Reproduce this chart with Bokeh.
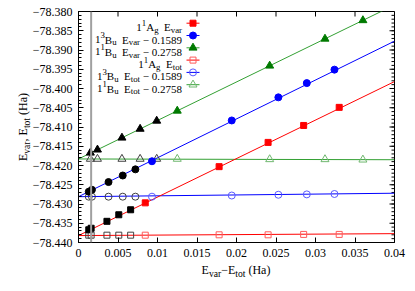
from bokeh.plotting import figure
from bokeh.models import FixedTicker, Span, Label, Range1d, Div
from bokeh.layouts import row, column
from bokeh.embed import file_html
from bokeh.resources import INLINE

# ---------------- data ----------------
x_1Ag = [0.0013, 0.0016, 0.0036, 0.0051, 0.0066, 0.00845, 0.0178, 0.0240, 0.0285, 0.0330]
evar_1Ag = [-78.4367, -78.4363, -78.4345, -78.4328, -78.4315, -78.4297, -78.4203, -78.4140, -78.4096, -78.4049]
etot_1Ag = [-78.4381, -78.4381, -78.4381, -78.4381, -78.4381, -78.4381, -78.4380, -78.4380, -78.4379, -78.4379]

x_3Bu = [0.0013, 0.0017, 0.0038, 0.0056, 0.0072, 0.0093, 0.0194, 0.0253, 0.0289, 0.0324]
evar_3Bu = [-78.4268, -78.4263, -78.4243, -78.4226, -78.4210, -78.4189, -78.4083, -78.4023, -78.3986, -78.3951]
etot_3Bu = [-78.4281, -78.4281, -78.4281, -78.4281, -78.4281, -78.4281, -78.4278, -78.4276, -78.4275, -78.4274]

x_1Bu = [0.0015, 0.0024, 0.0055, 0.0078, 0.0099, 0.0125, 0.0242, 0.0312, 0.0360]
evar_1Bu = [-78.4167, -78.4159, -78.4128, -78.4105, -78.4084, -78.4058, -78.3941, -78.3871, -78.3823]
etot_1Bu = [-78.4183, -78.4183, -78.4183, -78.4183, -78.4183, -78.4183, -78.4184, -78.4184, -78.4185]

n_black = 5  # first points of each series drawn in black

fit_x = [0.0, 0.04]
fit_var_1Ag = [-78.4382, -78.3982]
fit_tot_1Ag = [-78.4382, -78.4377]
fit_var_3Bu = [-78.4281, -78.3877]
fit_tot_3Bu = [-78.4281, -78.4272]
fit_var_1Bu = [-78.4183, -78.3783]
fit_tot_1Bu = [-78.4183, -78.4185]

vline_x = 0.0016

x_ticks = [0.0, 0.005, 0.01, 0.015, 0.02, 0.025, 0.03, 0.035, 0.04]
x_tick_labels = ["0", "0.005", "0.01", "0.015", "0.02", "0.025", "0.03", "0.035", "0.04"]
y_ticks = [-78.440, -78.435, -78.430, -78.425, -78.420, -78.415, -78.410,
           -78.405, -78.400, -78.395, -78.390, -78.385, -78.380]
y_tick_labels = ["\u221278.440", "\u221278.435", "\u221278.430", "\u221278.425", "\u221278.420",
                 "\u221278.415", "\u221278.410", "\u221278.405", "\u221278.400", "\u221278.395",
                 "\u221278.390", "\u221278.385", "\u221278.380"]
y_minor = [round(-78.440 + i * 0.001, 3) for i in range(61)]

# ---------------- layout ----------------
XR = (0.0, 0.04)
YR = (-78.44, -78.38)
FW, FH = 316, 231
YDIV_W = 28
ML, MT = 50, 11          # figure borders (page frame left = 78, top = 11)
FL, FT = YDIV_W + ML, MT
FONT = "Liberation Serif"

RED, BLUE, GREEN_M, GREEN_L = "#ff0000", "#0000ff", "#007a00", "#33a033"
RED_O, BLUE_O, GREEN_O = "#ff5a5a", "#5a5aff", "#70b870"

p = figure(frame_width=FW, frame_height=FH,
           x_range=Range1d(*XR), y_range=Range1d(*YR),
           output_backend="svg", toolbar_location=None,
           min_border_left=ML, min_border_right=18, min_border_top=MT, min_border_bottom=20)
p.grid.visible = False
p.outline_line_color = "black"
p.outline_line_alpha = 1.0
p.outline_line_width = 1
p.background_fill_color = "white"
p.border_fill_color = None


def style_axis(ax, ticks, minor, labels):
    ax.ticker = FixedTicker(ticks=ticks, minor_ticks=minor)
    ax.major_label_overrides = {t: l for t, l in zip(ticks, labels)}
    ax.major_tick_in = 5
    ax.major_tick_out = 0
    ax.minor_tick_in = 3
    ax.minor_tick_out = 0
    ax.axis_line_color = "black"
    ax.major_tick_line_color = "black"
    ax.minor_tick_line_color = "black"
    ax.major_label_text_font = FONT
    ax.major_label_text_font_size = "12px"
    ax.major_label_text_color = "black"
    ax.major_label_standoff = 6


style_axis(p.xaxis[0], x_ticks, [], x_tick_labels)
style_axis(p.yaxis[0], y_ticks, y_minor, y_tick_labels)

# mirrored inward ticks on top and right edges
DX = (XR[1] - XR[0]) / FW
DY = (YR[1] - YR[0]) / FH
p.segment(x0=x_ticks, y0=[YR[1]] * len(x_ticks), x1=x_ticks, y1=[YR[1] - 5 * DY] * len(x_ticks),
          line_color="black", line_width=1)
p.segment(x0=[XR[1]] * len(y_ticks), y0=y_ticks, x1=[XR[1] - 5 * DX] * len(y_ticks), y1=y_ticks,
          line_color="black", line_width=1)
p.segment(x0=[XR[1]] * len(y_minor), y0=y_minor, x1=[XR[1] - 3 * DX] * len(y_minor), y1=y_minor,
          line_color="black", line_width=1)

p.add_layout(Span(location=vline_x, dimension="height", line_color="#a0a0a0", line_width=2))

# fit lines
p.line(fit_x, fit_tot_1Ag, line_color=RED, line_width=1)
p.line(fit_x, fit_tot_3Bu, line_color=BLUE, line_width=1)
p.line(fit_x, fit_tot_1Bu, line_color=GREEN_L, line_width=1)
p.line(fit_x, fit_var_1Ag, line_color=RED, line_width=1)
p.line(fit_x, fit_var_3Bu, line_color=BLUE, line_width=1)
p.line(fit_x, fit_var_1Bu, line_color=GREEN_L, line_width=1)


def pts(xs, ys, marker, color, size, filled):
    kw = dict(marker=marker, size=size, line_color=color, line_width=1,
              fill_color=color if filled else None)
    p.scatter(xs[n_black:], ys[n_black:], **kw)
    kb = dict(kw)
    kb["line_color"] = "black" if filled else "#404040"
    if filled:
        kb["fill_color"] = "black"
    p.scatter(xs[:n_black], ys[:n_black], **kb)


pts(x_1Ag, etot_1Ag, "square", RED_O, 6, False)
pts(x_3Bu, etot_3Bu, "circle", BLUE_O, 7, False)
pts(x_1Bu, etot_1Bu, "triangle", GREEN_O, 8, False)
pts(x_1Ag, evar_1Ag, "square", RED, 6, True)
pts(x_3Bu, evar_3Bu, "circle", BLUE, 7, True)
pts(x_1Bu, evar_1Bu, "triangle", GREEN_M, 8, True)

# ---------------- rich text (legend) ----------------
W = {'0': .5, '1': .5, '2': .5, '3': .5, '4': .5, '5': .5, '6': .5, '7': .5, '8': .5, '9': .5,
     'A': .722, 'B': .667, 'E': .611, 'H': .722, 'a': .444, 'g': .5, 'o': .5, 'r': .333,
     't': .278, 'u': .5, 'v': .5, ' ': .25, '\u2212': .564, '.': .25, '(': .333, ')': .333, ',': .25}


def px2x(px):
    return XR[0] + (px - FL) * DX


def py2y(py):
    return YR[1] - (py - FT) * DY


def rich(segs, px, py, size, align="right"):
    items = []
    for t, k in segs:
        s = size * 0.8 if k in ("sub", "sup") else size
        lead = len(t) - len(t.lstrip(" "))
        trail = len(t) - len(t.rstrip(" "))
        core = t.strip(" ")
        w_core = sum(W.get(c, .5) for c in core) * s
        items.append((core, k, s, lead * .25 * s, w_core, trail * .25 * s))
    total = sum(a + b + c for _, _, _, a, b, c in items)
    along = {"left": 0, "right": -total, "center": -total / 2}[align]
    for core, k, s, lead, w, trail in items:
        along += lead
        shift = {"sub": 0.25 * size, "sup": -0.4 * size}.get(k, 0)
        p.add_layout(Label(x=px2x(px + along), y=py2y(py + shift), text=core, text_font=FONT,
                           text_font_size=f"{s:.1f}px", text_color="black",
                           text_align="left", text_baseline="alphabetic"))
        along += w + trail


legend_rows = [
    ([("1", "n"), ("1", "sup"), ("A", "n"), ("g", "sub"), ("  E", "n"), ("var", "sub")], "square", RED, True, 6),
    ([("1", "n"), ("3", "sup"), ("B", "n"), ("u", "sub"), ("  E", "n"), ("var", "sub"), (" \u2212 0.1589", "n")], "circle", BLUE, True, 7),
    ([("1", "n"), ("1", "sup"), ("B", "n"), ("u", "sub"), ("  E", "n"), ("var", "sub"), (" \u2212 0.2758", "n")], "triangle", GREEN_M, True, 8),
    ([("1", "n"), ("1", "sup"), ("A", "n"), ("g", "sub"), ("  E", "n"), ("tot", "sub")], "square", RED_O, False, 6),
    ([("1", "n"), ("3", "sup"), ("B", "n"), ("u", "sub"), ("  E", "n"), ("tot", "sub"), (" \u2212 0.1589", "n")], "circle", BLUE_O, False, 7),
    ([("1", "n"), ("1", "sup"), ("B", "n"), ("u", "sub"), ("  E", "n"), ("tot", "sub"), (" \u2212 0.2758", "n")], "triangle", GREEN_O, False, 8),
]
row_py = [22.7, 35.0, 47.3, 59.6, 71.9, 84.2]
line_cols = [RED, BLUE, GREEN_L, RED, BLUE, GREEN_L]
for (segs, mk, col, filled, sz), ry, lc in zip(legend_rows, row_py, line_cols):
    rich(segs, 181.5, ry + 4, 11, align="right")
    p.line([px2x(186), px2x(199)], [py2y(ry), py2y(ry)], line_color=lc, line_width=1)
    p.scatter([px2x(192.5)], [py2y(ry)], marker=mk, size=sz, line_color=col,
              fill_color=col if filled else None, line_width=1)

# ---------------- axis titles (HTML, outside the plot frame) ----------------
SUB = "<span style=\"font-size:9.6px;position:relative;top:3px;\">{}</span>"
TXT = "font-family:'Liberation Serif';font-size:12px;line-height:12px;color:black;white-space:nowrap;"
y_title = "E" + SUB.format("var") + ", E" + SUB.format("tot") + " (Ha)"
x_title = "E" + SUB.format("var") + "\u2212E" + SUB.format("tot") + " (Ha)"

PH = MT + FH + 20
ydiv = Div(text=(f"<div style=\"position:relative;width:{YDIV_W}px;height:{PH}px;\">"
                 f"<div style=\"position:absolute;left:23px;top:{FT + FH / 2}px;"
                 f"transform:translate(-50%,-50%) rotate(-90deg);{TXT}\">{y_title}</div></div>"),
           width=YDIV_W, height=PH, margin=0, styles={"overflow": "visible"})
PW = ML + FW + 18
xdiv = Div(text=(f"<div style=\"position:relative;width:{PW}px;height:26px;\">"
                 f"<div style=\"position:absolute;left:{ML + FW / 2}px;top:8px;"
                 f"transform:translate(-50%,-50%);{TXT}\">{x_title}</div></div>"),
           width=PW, height=26, margin=0, styles={"overflow": "visible"})

layout = row(ydiv, column(p, xdiv))
open("out.html", "w").write(file_html(layout, INLINE))
